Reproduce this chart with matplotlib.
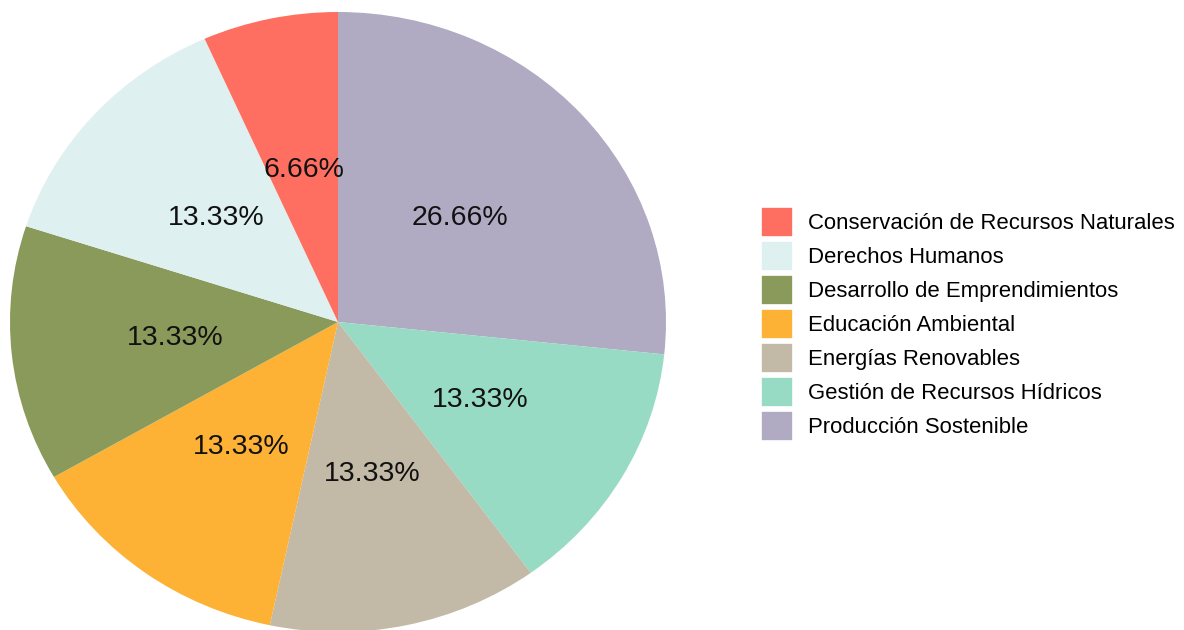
import numpy as np
import matplotlib
matplotlib.use("Agg")
import matplotlib.pyplot as plt
from matplotlib.patches import Patch

plt.rcParams['font.family'] = ['Liberation Sans', 'DejaVu Sans']

categorias = ["Conservación de Recursos Naturales", "Derechos Humanos",
              "Desarrollo de Emprendimientos", "Educación Ambiental",
              "Energías Renovables", "Gestión de Recursos Hídricos",
              "Producción Sostenible"]
conteos = [1, 2, 2, 2, 2, 2, 4]
colores = ["#FF6F61", "#DEF0EF", "#8A9A5B", "#FDB235",
           "#C2B9A7", "#98DBC5", "#B0AAC2"]


def pct(v):
    # truncated, not rounded (6.666 -> 6.66)
    return f"{np.floor(v * 100) / 100:.2f}%"


fig = plt.figure(figsize=(11.84, 6.30), dpi=100)
ax = fig.add_axes([10 / 1184, (630 - 12 - 620) / 630, 656 / 1184, 620 / 630])

wedges, texts, autotexts = ax.pie(conteos[::-1], colors=colores[::-1],
                                  startangle=90, counterclock=False,
                                  autopct=pct, pctdistance=0.5,
                                  wedgeprops=dict(linewidth=0),
                                  textprops=dict(fontsize=20.5, color="#111111"))
ax.set_aspect('auto')
ax.set_xlim(-1, 1)
ax.set_ylim(-1, 1)
ax.axis('off')

handles = [Patch(facecolor=c, edgecolor='white', linewidth=1.2) for c in colores]
fig.legend(handles, categorias, loc='center left',
           bbox_to_anchor=(761 / 1184, 1 - 324 / 630),
           frameon=False, fontsize=15.9, handlelength=1.45, handleheight=1.75,
           labelspacing=0.16, handletextpad=0.7, borderpad=0, borderaxespad=0)

fig.savefig("out.png", dpi=100)
